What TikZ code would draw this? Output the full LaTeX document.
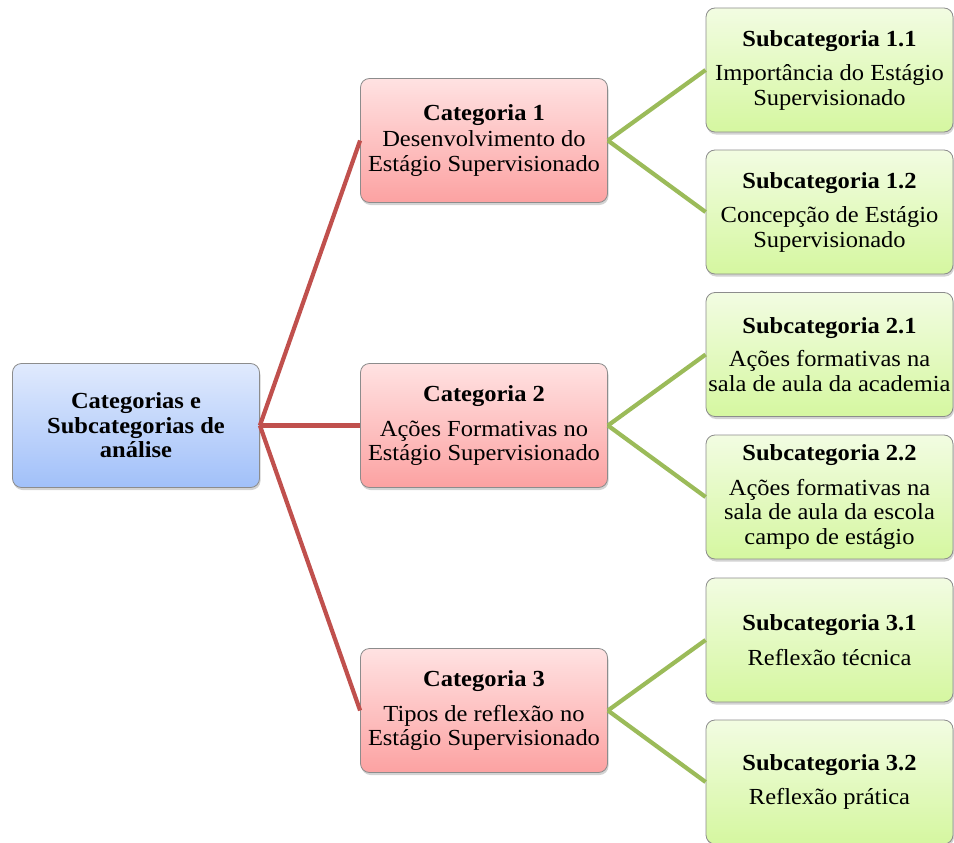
\documentclass[tikz,border=0pt]{standalone}
\usepackage{fontspec}
\setmainfont{Liberation Serif}[FakeStretch=1.065]
\usetikzlibrary{shadows}
\definecolor{redline}{HTML}{C0504D}
\definecolor{greenline}{HTML}{9BBB59}
\definecolor{bluetop}{HTML}{E0EAFD}
\definecolor{bluebot}{HTML}{A1C0F9}
\definecolor{redtop}{HTML}{FFE2E2}
\definecolor{redbot}{HTML}{FCA2A2}
\definecolor{greentop}{HTML}{F2FCE2}
\definecolor{greenbot}{HTML}{D5F7A0}
\begin{document}
\begin{tikzpicture}[x=1pt,y=-1pt,
  box/.style={draw=black!45, line width=0.8pt, rounded corners=9pt,
    minimum width=247pt, minimum height=124pt, align=center, inner sep=0pt,
    font=\fontsize{23}{24.5}\selectfont,
    drop shadow={shadow xshift=1pt,shadow yshift=-2.5pt,opacity=0.35}},
  rootbox/.style={box, top color=bluetop, bottom color=bluebot},
  catbox/.style={box, top color=redtop, bottom color=redbot},
  subbox/.style={box, top color=greentop, bottom color=greenbot},
  redlink/.style={draw=redline, line width=4.2pt},
  greenlink/.style={draw=greenline, line width=4.2pt}
]
\useasboundingbox (0,0) rectangle (954,843);

\node[rootbox] (root) at (136,425.5) {\textbf{Categorias e}\\\textbf{Subcategorias de}\\\textbf{análise}};

\node[catbox] (c1) at (484,140.5) {\textbf{Categoria 1}\\[2pt]Desenvolvimento do\\Estágio Supervisionado};
\node[catbox] (c2) at (484,425.5) {\textbf{Categoria 2}\\[10pt]Ações Formativas no\\Estágio Supervisionado};
\node[catbox] (c3) at (484,710.5) {\textbf{Categoria 3}\\[10pt]Tipos de reflexão no\\Estágio Supervisionado};

\node[subbox] (s11) at (829.5,70) {\textbf{Subcategoria 1.1}\\[10pt]Importância do Estágio\\Supervisionado};
\node[subbox] (s12) at (829.5,212) {\textbf{Subcategoria 1.2}\\[10pt]Concepção de Estágio\\Supervisionado};
\node[subbox] (s21) at (829.5,354.5) {\textbf{Subcategoria 2.1}\\[9pt]Ações formativas na\\sala de aula da academia};
\node[subbox] (s22) at (829.5,497) {\textbf{Subcategoria 2.2}\\[10pt]Ações formativas na\\sala de aula da escola\\campo de estágio};
\node[subbox] (s31) at (829.5,640) {\textbf{Subcategoria 3.1}\\[10pt]Reflexão técnica};
\node[subbox] (s32) at (829.5,782) {\textbf{Subcategoria 3.2}\\[10pt]Reflexão prática};

\draw[redlink] (root.east) -- (c1.west);
\draw[redlink] (root.east) -- (c2.west);
\draw[redlink] (root.east) -- (c3.west);

\draw[greenlink] (c1.east) -- (s11.west);
\draw[greenlink] (c1.east) -- (s12.west);
\draw[greenlink] (c2.east) -- (s21.west);
\draw[greenlink] (c2.east) -- (s22.west);
\draw[greenlink] (c3.east) -- (s31.west);
\draw[greenlink] (c3.east) -- (s32.west);
\end{tikzpicture}
\end{document}
